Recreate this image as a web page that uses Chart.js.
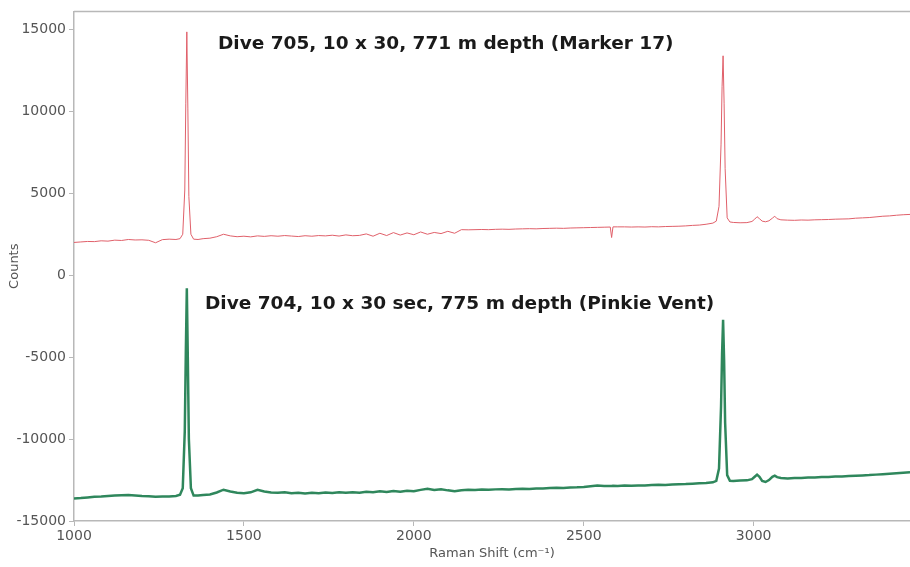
<!DOCTYPE html>
<html>
<head>
<meta charset="utf-8">
<script src="https://cdn.jsdelivr.net/npm/chart.js@4/dist/chart.umd.min.js"></script>
<style>
  body { margin: 0; background: #fff; }
  #wrap { width: 910px; height: 567px; }
</style>
</head>
<body>
<div id="wrap"><canvas id="ramanChart" width="910" height="567"></canvas></div>
<script>
// Raman shift (cm-1) sample positions
const shift = [
  1000, 1020, 1040, 1060, 1080, 1100, 1120, 1140, 1160, 1180, 1200, 1220, 1240, 1260, 1280, 1300, 1312,
  1320, 1326, 1329, 1332, 1335, 1338, 1344, 1352,
  1365,
  1380, 1400, 1420, 1440, 1460, 1480, 1500, 1520, 1540, 1560,
  1580, 1600, 1620, 1640, 1660, 1680, 1700, 1720, 1740, 1760,
  1780, 1800, 1820, 1840, 1860, 1880, 1900, 1920, 1940, 1960,
  1980, 2000, 2020, 2040, 2060, 2080, 2100, 2120, 2140, 2160,
  2180, 2200, 2220, 2240, 2260, 2280, 2300, 2320, 2340, 2360,
  2380, 2400, 2420, 2440, 2460, 2480, 2500, 2520, 2540, 2560,
  2578, 2582, 2586,
  2600, 2620, 2640, 2660, 2680, 2700, 2720, 2740, 2760, 2780, 2800, 2820, 2840, 2860, 2880,
  2890, 2898, 2904, 2907, 2910, 2913, 2916, 2922, 2930,
  2940, 2960, 2980, 2995, 3003, 3010, 3017, 3025, 3035, 3045, 3055, 3062, 3069, 3080,
  3100, 3120, 3140, 3160, 3180, 3200, 3220, 3240, 3260, 3280, 3300, 3320, 3340, 3360, 3380, 3400, 3420, 3440, 3460
];

// Dive 705, Marker 17 (counts)
const dive705 = [
  2000, 2030, 2060, 2050, 2100, 2080, 2140, 2120, 2180, 2150, 2160, 2130, 1980, 2170, 2200, 2180, 2230,
  2500, 5200, 10500, 14850, 10200, 4800, 2500, 2200,
  2180,
  2230, 2260, 2350, 2500, 2400, 2350, 2380, 2340, 2400, 2370,
  2410, 2380, 2420, 2390, 2360, 2410, 2380, 2420, 2400, 2440,
  2390, 2460, 2410, 2430, 2520, 2380, 2560, 2420, 2600, 2450,
  2580, 2470, 2640, 2500, 2610, 2540, 2680, 2560, 2780, 2770,
  2780, 2790, 2780, 2800, 2810, 2800, 2820, 2830, 2840, 2830,
  2850, 2860, 2870, 2860, 2880, 2890, 2900, 2910, 2920, 2930,
  2940, 2300, 2950,
  2950, 2950, 2940, 2950, 2940, 2960, 2950, 2970, 2980, 2990, 3010, 3040, 3060, 3110, 3180,
  3300, 4200, 8000, 11500, 13390, 10500, 6500, 3500, 3250,
  3220, 3200, 3210, 3280, 3420, 3570, 3450, 3300, 3260, 3320, 3480, 3600, 3450, 3380,
  3360, 3350, 3370, 3360, 3380, 3390, 3400, 3420, 3430, 3440, 3480, 3500, 3520, 3560, 3600, 3620, 3660, 3690, 3710
];

// Dive 704, Pinkie Vent (counts, offset)
const dive704 = [
  -13630, -13600, -13560, -13520, -13500, -13470, -13440, -13430, -13420, -13440, -13470, -13490, -13520, -13510, -13500, -13470, -13400,
  -13000, -9500, -4800, -790, -5200, -10000, -13000, -13450,
  -13450,
  -13420, -13380, -13260, -13090, -13200, -13280, -13300, -13250, -13100, -13200,
  -13260, -13280, -13250, -13310, -13270, -13320, -13280, -13300, -13260, -13290,
  -13250, -13280, -13240, -13270, -13220, -13240, -13190, -13230, -13170, -13210,
  -13150, -13190, -13100, -13040, -13110, -13060, -13130, -13190, -13120, -13090,
  -13110, -13080, -13100, -13070, -13060, -13080, -13040, -13030, -13050, -13010,
  -13020, -12990, -12970, -12990, -12950, -12940, -12920, -12880, -12840, -12860,
  -12870, -12860, -12850,
  -12860, -12840, -12850, -12830, -12840, -12810, -12790, -12800, -12770, -12750, -12740, -12720, -12700, -12680, -12640,
  -12550, -11800, -8000, -4800, -2720, -5200, -9000, -12200, -12550,
  -12560, -12530, -12520, -12450, -12300, -12170, -12300, -12550, -12620, -12500, -12300, -12230, -12320, -12380,
  -12400, -12380, -12370, -12350, -12350, -12320, -12310, -12290, -12280, -12260, -12240, -12220, -12200, -12170, -12140, -12110, -12080, -12050, -12020
];

const xTicks = [1000, 1500, 2000, 2500, 3000];
const yTicks = [-15000, -10000, -5000, 0, 5000, 10000, 15000];

const label705 = 'Dive 705, 10 x 30, 771 m depth (Marker 17)';
const label704 = 'Dive 704, 10 x 30 sec, 775 m depth (Pinkie Vent)';

const axisGray = '#b8b8b8';
const tickFont = { family: 'DejaVu Sans', size: 14 };

// frame line on top + the two spectrum captions
const captions = {
  id: 'captions',
  afterDraw(chart) {
    const ctx = chart.ctx;
    const a = chart.chartArea;
    ctx.save();
    ctx.strokeStyle = axisGray;
    ctx.lineWidth = 1.5;
    ctx.beginPath();
    ctx.moveTo(a.left, a.top);
    ctx.lineTo(a.right, a.top);
    ctx.stroke();
    ctx.fillStyle = '#1a1a1a';
    ctx.font = 'bold 18.5px "DejaVu Sans", sans-serif';
    ctx.textBaseline = 'alphabetic';
    ctx.fillText(label705, 218, 49);
    ctx.fillText(label704, 205, 309);
    ctx.restore();
  }
};

new Chart(document.getElementById('ramanChart'), {
  type: 'line',
  data: {
    datasets: [{
      label: 'Dive 705',
      data: shift.map((x, i) => ({ x: x, y: dive705[i] })),
      borderColor: '#e0606a',
      borderWidth: 1,
      pointRadius: 0,
      tension: 0
    }, {
      label: 'Dive 704',
      data: shift.map((x, i) => ({ x: x, y: dive704[i] })),
      borderColor: '#2f875c',
      borderWidth: 2.5,
      pointRadius: 0,
      tension: 0
    }]
  },
  options: {
    responsive: false,
    animation: false,
    layout: { padding: { top: 7, right: 0, left: 0, bottom: 0 } },
    plugins: { legend: { display: false }, tooltip: { enabled: false } },
    scales: {
      x: {
        type: 'linear',
        min: 1000,
        max: 3460,
        afterBuildTicks: s => { s.ticks = xTicks.map(v => ({ value: v })); },
        afterFit: s => { s.height = 46; },
        ticks: { color: '#555', font: tickFont, padding: 2, maxRotation: 0, callback: v => String(v) },
        grid: { drawOnChartArea: false, drawTicks: true, tickLength: 5, color: axisGray },
        border: { color: axisGray, width: 1.5 },
        title: { display: true, text: 'Raman Shift (cm\u207B\u00B9)', color: '#555', font: { family: 'DejaVu Sans', size: 13 }, padding: { top: 0, bottom: 6 } }
      },
      y: {
        min: -15000,
        max: 16100,
        afterBuildTicks: s => { s.ticks = yTicks.map(v => ({ value: v })); },
        afterFit: s => { s.width = 74; },
        ticks: { color: '#555', font: tickFont, padding: 3, callback: v => String(v) },
        grid: { drawOnChartArea: false, drawTicks: true, tickLength: 5, color: axisGray },
        border: { color: axisGray, width: 1.5 },
        title: { display: true, text: 'Counts', color: '#555', font: { family: 'DejaVu Sans', size: 13 }, padding: { top: 7, bottom: 0 } }
      }
    }
  },
  plugins: [captions]
});
</script>
</body>
</html>
